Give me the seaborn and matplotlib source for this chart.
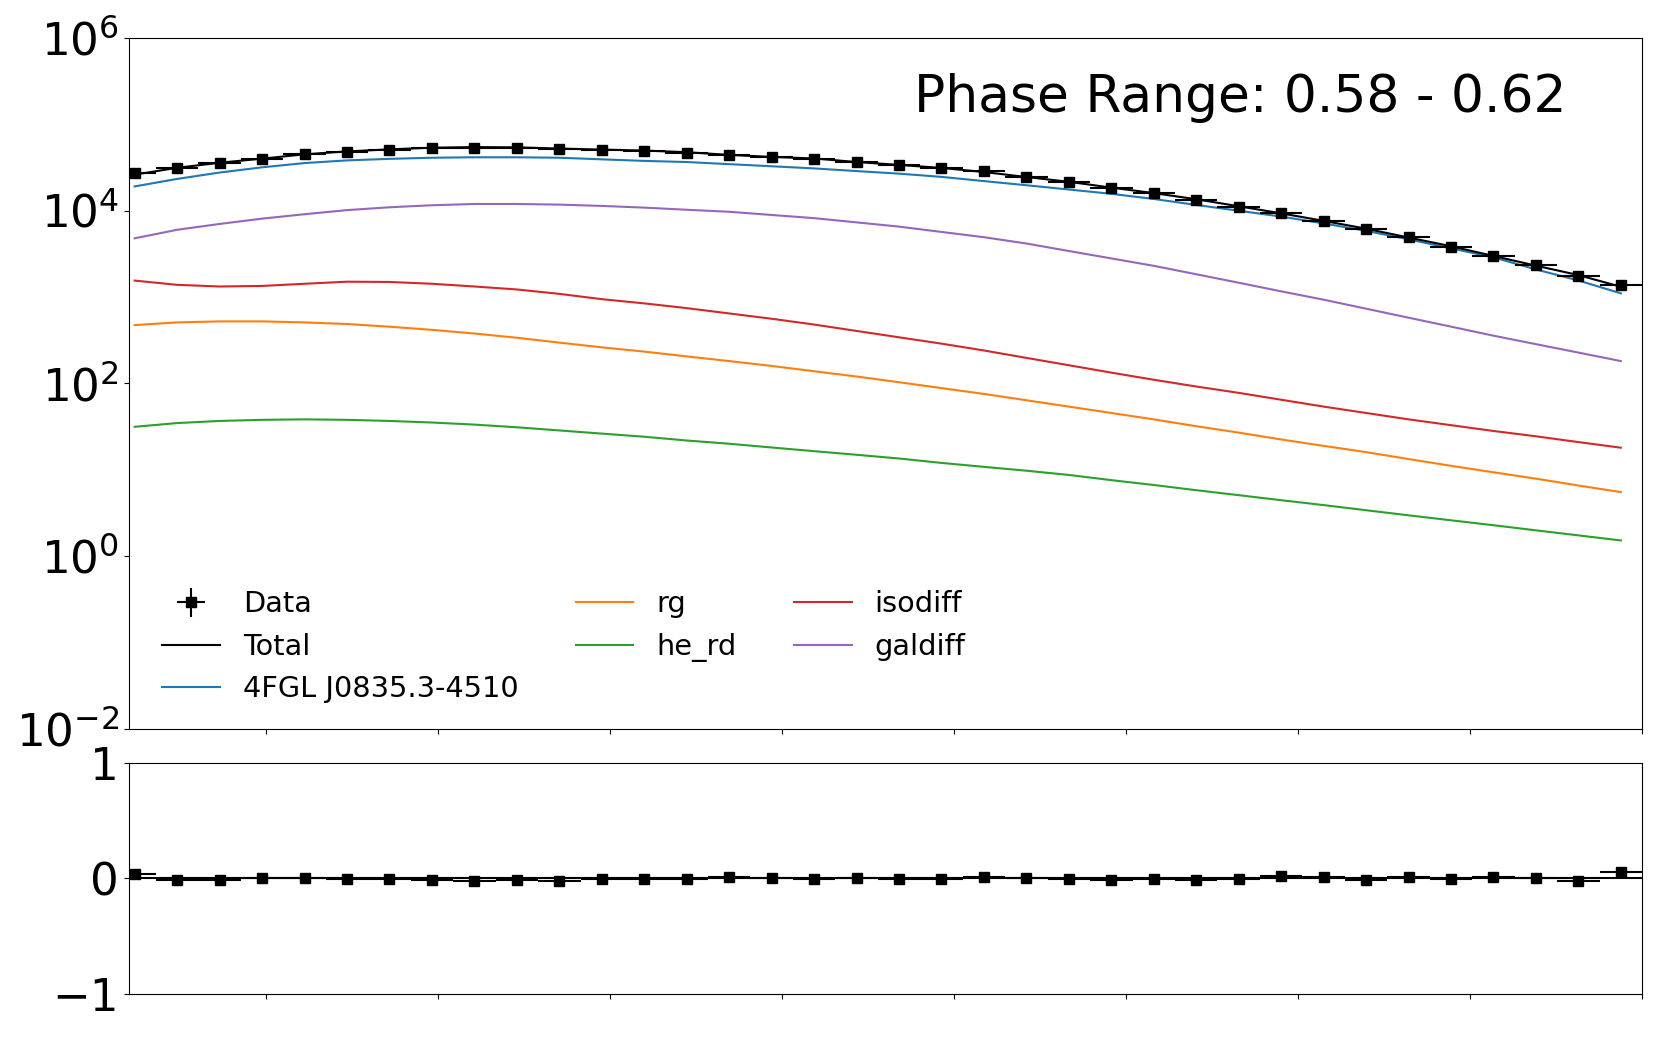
import numpy as np
import matplotlib
matplotlib.use("Agg")
import matplotlib.pyplot as plt
import seaborn as sns
from matplotlib.ticker import FixedLocator, NullLocator

# energy bin index (x labels are hidden in the original)
bins = np.arange(36)

data_counts = [2.70e4, 3.08e4, 3.52e4, 3.98e4, 4.47e4, 4.80e4, 5.07e4, 5.26e4, 5.30e4, 5.30e4,
               5.11e4, 5.02e4, 4.90e4, 4.69e4, 4.44e4, 4.20e4, 3.96e4, 3.64e4, 3.35e4, 3.08e4,
               2.83e4, 2.45e4, 2.13e4, 1.81e4, 1.58e4, 1.33e4, 1.11e4, 9.46e3, 7.66e3, 6.07e3,
               4.91e3, 3.82e3, 3.01e3, 2.31e3, 1.75e3, 1.38e3]

total_model = [2.60e4, 3.12e4, 3.57e4, 3.98e4, 4.47e4, 4.83e4, 5.10e4, 5.33e4, 5.42e4, 5.38e4,
               5.21e4, 5.07e4, 4.94e4, 4.73e4, 4.40e4, 4.17e4, 4.00e4, 3.64e4, 3.37e4, 3.11e4,
               2.79e4, 2.44e4, 2.15e4, 1.84e4, 1.59e4, 1.35e4, 1.12e4, 9.27e3, 7.59e3, 6.16e3,
               4.87e3, 3.86e3, 2.98e3, 2.30e3, 1.79e3, 1.31e3]

psr = [1.90e4, 2.32e4, 2.75e4, 3.16e4, 3.54e4, 3.80e4, 3.96e4, 4.08e4, 4.13e4, 4.13e4,
       4.08e4, 3.91e4, 3.75e4, 3.64e4, 3.44e4, 3.25e4, 3.07e4, 2.86e4, 2.67e4, 2.45e4,
       2.19e4, 1.96e4, 1.75e4, 1.56e4, 1.36e4, 1.16e4, 9.94e3, 8.51e3, 7.09e3, 5.82e3,
       4.64e3, 3.65e3, 2.87e3, 2.08e3, 1.55e3, 1.10e3]

rg = [472, 507, 521, 521, 507, 486, 452, 416, 377, 337,
      296, 261, 233, 205, 181, 159, 138, 120, 103, 88.1,
      75.4, 63.7, 53.8, 45.4, 38.3, 31.9, 26.9, 22.4, 18.9, 16.0,
      13.3, 11.1, 9.35, 7.89, 6.57, 5.51]

he_rd = [31.4, 34.7, 36.7, 37.8, 38.3, 37.8, 36.7, 35.2, 33.3, 31.0,
         28.5, 26.2, 24.1, 21.8, 20.0, 18.1, 16.4, 14.9, 13.5, 12.0,
         10.8, 9.75, 8.71, 7.58, 6.66, 5.80, 5.08, 4.44, 3.90, 3.40,
         2.97, 2.60, 2.28, 1.99, 1.74, 1.52]

isodiff = [1545, 1380, 1320, 1340, 1420, 1500, 1490, 1420, 1320, 1220,
           1085, 942, 842, 742, 644, 559, 479, 404, 341, 288,
           240, 197, 162, 133, 110, 91.9, 77.6, 64.6, 53.8, 45.4,
           38.3, 32.8, 28.1, 24.4, 20.9, 18.0]

galdiff = [4.77e3, 5.98e3, 6.99e3, 8.05e3, 9.06e3, 1.01e4, 1.09e4, 1.15e4, 1.19e4, 1.19e4,
           1.17e4, 1.13e4, 1.08e4, 1.02e4, 9.67e3, 8.88e3, 8.16e3, 7.29e3, 6.51e3, 5.65e3,
           4.91e3, 4.15e3, 3.40e3, 2.79e3, 2.29e3, 1.83e3, 1.46e3, 1.16e3, 929, 731,
           575, 453, 356, 284, 227, 181]

residuals = [0.038, -0.014, -0.014, 0.0, 0.0, -0.006, -0.006, -0.014, -0.023, -0.014,
             -0.020, -0.009, -0.009, -0.009, 0.009, 0.006, -0.009, 0.0, -0.006, -0.009,
             0.014, 0.006, -0.009, -0.014, -0.009, -0.014, -0.006, 0.020, 0.009, -0.014,
             0.009, -0.009, 0.009, 0.006, -0.020, 0.052]

res_err = [0.006, 0.006, 0.005, 0.005, 0.005, 0.005, 0.005, 0.005, 0.005, 0.005,
           0.005, 0.005, 0.005, 0.005, 0.005, 0.005, 0.005, 0.006, 0.006, 0.006,
           0.006, 0.007, 0.007, 0.008, 0.008, 0.009, 0.010, 0.011, 0.012, 0.013,
           0.014, 0.016, 0.018, 0.020, 0.024, 0.027]

components = [("4FGL J0835.3-4510", psr), ("rg", rg), ("he_rd", he_rd),
              ("isodiff", isodiff), ("galdiff", galdiff)]

phase_label = "Phase Range: 0.58 - 0.62"

palette = sns.color_palette("tab10")

fig = plt.figure(figsize=(16.61, 10.38), dpi=100)
ax = fig.add_axes([0.0775, 0.2977, 0.9111, 0.6660])
ax_res = fig.add_axes([0.0775, 0.0427, 0.9111, 0.2222])

data_arr = np.array(data_counts)
err_arr = np.array(res_err)

# spectrum panel
h_data = ax.errorbar(bins, data_counts, xerr=0.5, yerr=data_arr * err_arr,
                     fmt="s", color="black", markersize=7, label="Data", zorder=4)
sns.lineplot(x=bins, y=total_model, ax=ax, color="black", linewidth=1.5,
             label="Total", zorder=3)
for i, (name, vals) in enumerate(components):
    sns.lineplot(x=bins, y=vals, ax=ax, color=palette[i], linewidth=1.5,
                 label=name, zorder=2)

ax.set_yscale("log")
ax.set_ylim(1e-2, 1e6)
ax.yaxis.set_major_locator(FixedLocator([1e-2, 1e0, 1e2, 1e4, 1e6]))
ax.yaxis.set_minor_locator(NullLocator())

tick_pos = [3.1 + 4.05 * k for k in range(9)]
for a in (ax, ax_res):
    a.set_xlim(-0.14, 35.5)
    a.set_xticks(tick_pos)
    a.set_xticklabels([])
    a.tick_params(axis="y", labelsize=32.5)
    a.set_xlabel("")
    a.set_ylabel("")

ax.text(0.95, 0.893, phase_label, transform=ax.transAxes, ha="right",
        va="baseline", fontsize=37.4)

handles, labels = ax.get_legend_handles_labels()
order = ["Data", "Total"] + [c[0] for c in components]
lookup = dict(zip(labels, handles))
ax.legend([lookup[k] for k in order], order, loc="lower left", ncol=3,
          frameon=False, fontsize=20.7, bbox_to_anchor=(0.005, 0.0))

# residual panel
ax_res.errorbar(bins, residuals, xerr=0.5, yerr=res_err, fmt="s",
                color="black", markersize=7, zorder=4)
ax_res.axhline(0, color="black", linewidth=1.5, zorder=3)
ax_res.set_ylim(-1, 1)
ax_res.set_yticks([-1, 0, 1])

fig.savefig("out.png", dpi=100)
